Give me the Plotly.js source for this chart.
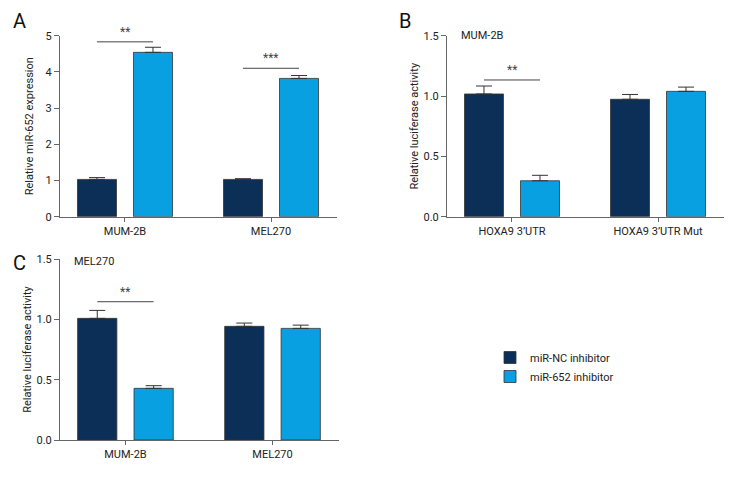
<!DOCTYPE html>
<html><head><meta charset="utf-8">
<script src="https://cdn.plot.ly/plotly-3.0.1.min.js"></script>
<style>body{margin:0;background:#fff}#chart{width:744px;height:480px}</style>
</head><body><div id="chart"></div>
<script>
// ---- data ----
const seriesNames = ["miR-NC inhibitor", "miR-652 inhibitor"];
const catsA = ["MUM-2B", "MEL270"];
const ncA = [1.03, 1.03];
const ncAerr = [0.05, 0.02];
const inhA = [4.54, 3.82];
const inhAerr = [0.14, 0.08];
const sigA = [4.83, 4.10];
const sigTextA = ["**", "***"];

const catsB = ["HOXA9 3\u2019UTR", "HOXA9 3\u2019UTR Mut"];
const ncB = [1.017, 0.973];
const ncBerr = [0.066, 0.04];
const inhB = [0.298, 1.039];
const inhBerr = [0.045, 0.035];
const sigB = [1.133];
const sigTextB = ["**"];

const catsC = ["MUM-2B", "MEL270"];
const ncC = [1.008, 0.942];
const ncCerr = [0.066, 0.027];
const inhC = [0.428, 0.925];
const inhCerr = [0.022, 0.027];
const sigC = [1.146];
const sigTextC = ["**"];

const yTicksA = [0, 1, 2, 3, 4, 5];
const yTicksBC = [0, 0.5, 1.0, 1.5];

// ---- style ----
const dark = "#0c2f58", light = "#08a0e0";
const font = "Roboto, 'Liberation Sans', sans-serif";
const axisCol = "#666";
const bargap = 0.233;
const half = (1 - bargap) / 4;

function bars(cats, nc, ncErr, inh, inhErr, xa, ya, showLeg) {
  const mk = (name, y, e, col) => ({
    type: "bar", x: cats, y: y, name: name, xaxis: xa, yaxis: ya,
    showlegend: showLeg, legendgroup: name,
    marker: {color: col, line: {color: "#333", width: 0.8}},
    error_y: {type: "data", array: e, arrayminus: e.map(() => 0), symmetric: false,
      color: "#333", thickness: 1, width: 8}
  });
  return [mk(seriesNames[0], nc, ncErr, dark), mk(seriesNames[1], inh, inhErr, light)];
}

const traces = [
  ...bars(catsA, ncA, ncAerr, inhA, inhAerr, "x", "y", true),
  ...bars(catsB, ncB, ncBerr, inhB, inhBerr, "x2", "y2", false),
  ...bars(catsC, ncC, ncCerr, inhC, inhCerr, "x3", "y3", false),
];

const shapes = [], annotations = [];
function sig(levels, texts, xr, yr) {
  levels.forEach((v, i) => {
    shapes.push({type: "line", xref: xr, yref: yr, x0: i - half, x1: i + half, y0: v, y1: v,
      line: {color: "#444", width: 1}});
    annotations.push({xref: xr, yref: yr, x: i, y: v, text: texts[i], showarrow: false,
      yanchor: "bottom", yshift: 1, font: {family: font, size: 12, color: "#444"}});
  });
}
sig(sigA, sigTextA, "x", "y");
sig(sigB, sigTextB, "x2", "y2");
sig(sigC, sigTextC, "x3", "y3");

const panel = (t, x, y) => ({xref: "paper", yref: "paper", x: x, y: y, text: t, showarrow: false,
  xanchor: "left", yanchor: "top", font: {family: font, size: 20, color: "#111"}});
annotations.push(panel("A", 11/744, 1 - 7/480));
annotations.push(panel("B", 397/744, 1 - 7/480));
annotations.push(panel("C", 11/744, 1 - 249/480));
annotations.push({xref: "paper", yref: "paper", x: 459/744, y: 1 - 36/480, text: "MUM-2B",
  showarrow: false, xanchor: "left", yanchor: "middle", font: {family: font, size: 11, color: "#222"}});
annotations.push({xref: "paper", yref: "paper", x: 72/744, y: 1 - 261/480, text: "MEL270",
  showarrow: false, xanchor: "left", yanchor: "middle", font: {family: font, size: 11, color: "#222"}});

const xax = (l, r, anchor) => ({
  domain: [l/744, r/744], anchor: anchor, range: [-0.445, 1.452], type: "category",
  showline: true, linecolor: axisCol, linewidth: 1, ticks: "outside", ticklen: 4, tickcolor: axisCol,
  showgrid: false, zeroline: false, tickfont: {family: font, size: 11, color: "#222"}
});
const yax = (bot, top, range, tv, fmt, title, anchor, so) => ({
  domain: [1 - bot/480, 1 - top/480], anchor: anchor, range: range,
  showline: true, linecolor: axisCol, linewidth: 1, ticks: "outside", ticklen: 5, tickcolor: axisCol,
  tickvals: tv, tickformat: fmt, showgrid: false, zeroline: false,
  tickfont: {family: font, size: 11, color: "#222"},
  title: {text: title, font: {family: font, size: 11, color: "#222"}, standoff: so}
});

const layout = {
  width: 744, height: 480, margin: {l: 0, r: 0, t: 0, b: 0},
  paper_bgcolor: "#fff", plot_bgcolor: "#fff",
  barmode: "group", bargap: bargap, bargroupgap: 0.304,
  xaxis: xax(60, 337, "y"),
  yaxis: yax(216.7, 35.7, [0, 5], yTicksA, "d", "Relative miR-652 expression", "x", 9),
  xaxis2: xax(447, 724, "y2"),
  yaxis2: yax(216.7, 35.7, [0, 1.5], yTicksBC, ".1f", "Relative luciferase activity", "x2", 2),
  xaxis3: xax(60, 339, "y3"),
  yaxis3: yax(440, 259, [0, 1.5], yTicksBC, ".1f", "Relative luciferase activity", "x3", 2),
  shapes: shapes, annotations: annotations,
  showlegend: true,
  legend: {x: 490/744, y: 1 - 343/480, xanchor: "left", yanchor: "top", bgcolor: "rgba(0,0,0,0)",
    font: {family: font, size: 11, color: "#222"}, itemwidth: 30, tracegroupgap: 0}
};

Plotly.newPlot("chart", traces, layout, {displayModeBar: false, staticPlot: true});
</script></body></html>
